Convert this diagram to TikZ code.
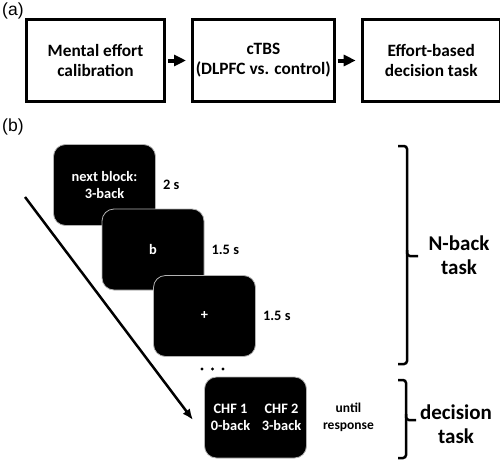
\documentclass[tikz,border=0pt]{standalone}
\usepackage{fontspec}
\setmainfont{Carlito}
\newfontfamily\panelfont{Liberation Sans}
\usetikzlibrary{arrows.meta, positioning}
\tikzstyle{stage}=[draw,rectangle,line width=3pt,minimum width=138pt,
  minimum height=82pt,align=center,font=\fontsize{17.3}{20}\selectfont\bfseries]
\tikzstyle{screen}=[draw=gray!60,fill=black,rounded corners=12pt,line width=0.8pt,
  minimum width=102pt,minimum height=81pt,text=white,align=center,
  font=\fontsize{14.4}{17}\selectfont\bfseries]
\tikzstyle{timing}=[inner sep=0pt,align=center,font=\fontsize{14.4}{17}\selectfont\bfseries]
\tikzstyle{phase}=[inner sep=0pt,align=center,font=\fontsize{21}{24}\selectfont\bfseries]
\tikzstyle{panel}=[inner sep=0pt,anchor=north west,font=\fontsize{17.5}{18}\panelfont]
\tikzstyle{brace}=[line width=2.5pt,rounded corners=3pt]

\begin{document}
\begin{tikzpicture}[x=1pt,y=-1pt,node distance=25pt]
    \useasboundingbox (0,0) rectangle (500,463);
    % (a) sequence of sessions
    \node[panel] (labela) at (2,3) {(a)};
    \node[stage] (calib) at (95.5,60.5) {Mental effort\\calibration};
    \node[stage, right=of calib] (ctbs) {cTBS\\(DLPFC vs. control)};
    \node[stage, right=of ctbs] (task) {Effort-based\\decision task};
    \draw[-{Triangle[length=12pt,width=11pt]}, line width=4pt,
      shorten <=2pt, shorten >=5pt] (calib) -- (ctbs);
    \draw[-{Triangle[length=12pt,width=11pt]}, line width=4pt,
      shorten <=2pt, shorten >=5pt] (ctbs) -- (task);
    % (b) trial screens
    \node[panel] (labelb) at (2,119) {(b)};
    \node[screen] (cue) at (104.5,185) {next block:\\3-back};
    \node[timing, right=7pt of cue] (tcue) {2 s};
    \node[screen] (letter) at (153,249.5) {b};
    \node[timing, right=7pt of letter] (tletter) {1.5 s};
    \node[screen] (fixation) at (204.5,316) {+};
    \node[timing, right=7pt of fixation] (tfixation) {1.5 s};
    \foreach \x in {202,212.5,223}
      \fill (\x,369) circle (1.6pt);
    \node[screen] (choice) at (255.5,417.5) {};
    \node[text=white, timing] at ([xshift=-25pt]choice.center) (left) {CHF 1\\0-back};
    \node[text=white, timing] at ([xshift=26pt]choice.center) (right) {CHF 2\\3-back};
    \node[timing, right=16pt of choice, font=\fontsize{13.5}{17}\selectfont\bfseries]
      (tchoice) {until\\response};
    % time arrow
    \coordinate (start) at (25,197);
    \coordinate (stop) at (193,420);
    \draw[-{Latex[length=11pt,width=9pt]}, line width=2.5pt] (start) -- (stop);
    % braces
    \draw[brace] (398,146) -- (407,146) -- (407,256) -- (418,256);
    \draw[brace] (407,250) -- (407,364) -- (398,364);
    \node[phase] (nback) at (459,255.5) {N-back\\task};
    \draw[brace] (398,380) -- (406,380) -- (406,420) -- (416,420);
    \draw[brace] (406,414) -- (406,458) -- (398,458);
    \node[phase] (decide) at (456,424.5) {decision\\task};
\end{tikzpicture}
\end{document}
